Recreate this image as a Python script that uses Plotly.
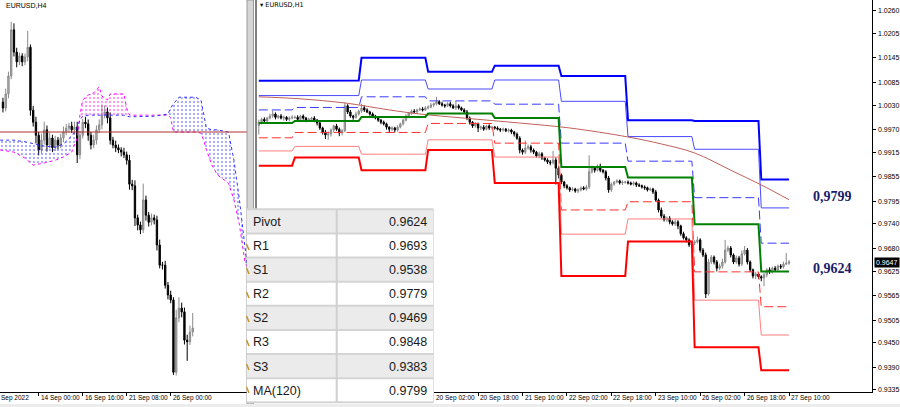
import plotly.graph_objects as go

W, H = 900, 407

# ---------------- H4 panel (left) ----------------
h4_open0 = 1.0055
h4_close = [1.0044, 1.0070, 1.0103, 1.0188, 1.0147, 1.0129, 1.0140, 1.0129, 1.0138, 1.0156,
            1.0040, 1.0018, 0.9994, 0.9967, 0.9985, 1.0004, 0.9976, 0.9989, 0.9971, 0.9985,
            0.9976, 0.9989, 1.0000, 1.0007, 1.0011, 1.0004, 1.0009, 0.9958, 0.9994, 1.0018,
            1.0015, 0.9994, 0.9976, 0.9985, 1.0004, 1.0013, 1.0031, 1.0037, 1.0026, 0.9985,
            0.9976, 0.9971, 0.9967, 0.9963, 0.9958, 0.9948, 0.9904, 0.9901, 0.9842, 0.9829,
            0.9820, 0.9875, 0.9847, 0.9834, 0.9842, 0.9838, 0.9792, 0.9755, 0.9755, 0.9718,
            0.9700, 0.9691, 0.9558, 0.9658, 0.9676, 0.9669, 0.9617, 0.9614, 0.9632, 0.9639]
h4_up = [8, 10, 8, 15, 12, 8, 6, 5, 6, 30, 5, 8, 10, 6, 12, 15, 8, 10, 6, 8,
         6, 8, 10, 8, 6, 8, 10, 10, 8, 6, 10, 8, 6, 10, 8, 10, 20, 12, 8, 10,
         6, 8, 6, 5, 8, 6, 10, 8, 10, 6, 6, 30, 8, 6, 8, 6, 8, 10, 6, 8,
         6, 8, 5, 15, 20, 10, 8, 10, 12, 28]
h4_dn = [8, 6, 8, 6, 8, 10, 6, 8, 6, 8, 10, 8, 15, 10, 6, 8, 12, 6, 8, 6,
         8, 6, 8, 6, 8, 6, 8, 15, 8, 6, 8, 10, 8, 6, 8, 6, 8, 6, 10, 8,
         6, 8, 6, 8, 6, 8, 10, 8, 15, 10, 8, 6, 10, 8, 6, 8, 10, 6, 8, 6,
         8, 6, 5, 6, 8, 10, 8, 35, 6, 8]
h4_tick_idx = [13, 29, 45, 61]
h4_tick_txt = ["14 Sep 00:00", "16 Sep 16:00", "21 Sep 08:00", "26 Sep 00:00"]
h4_level = 1.0000

kumo_idx = [-1, 4, 8, 11, 15, 19, 22, 25, 27, 28, 29, 31, 33, 35, 36, 38, 39, 44, 45, 46,
            55, 60, 61, 62, 64, 70, 72, 73, 74, 76, 78, 82, 84, 86, 88, 89]
span_a = [0.9985, 0.9985, 0.9982, 0.9978, 0.9974, 0.9972, 0.9978, 0.9993, 1.0007, 1.0022,
          1.0029, 1.0031, 1.0031, 1.0031, 1.0031, 1.0031, 1.0031, 1.0031, 1.0029, 1.0028,
          1.0029, 1.0033, 1.0044, 1.0052, 1.0064, 1.0064, 1.0059, 1.0031, 1.0007, 1.0004,
          1.0004, 1.0000, 0.9948, 0.9875, 0.9783, 0.9745]
span_b = [0.9967, 0.9963, 0.9952, 0.9939, 0.9943, 0.9948, 0.9954, 0.9963, 0.9989, 1.0031,
          1.0059, 1.0068, 1.0072, 1.0083, 1.0066, 1.0059, 1.0070, 1.0070, 1.0044, 1.0031,
          1.0031, 1.0031, 1.0026, 1.0000, 1.0000, 1.0000, 0.9998, 0.9985, 0.9967, 0.9939,
          0.9921, 0.9906, 0.9875, 0.9829, 0.9761, 0.9750]

# ---------------- H1 panel (right) ----------------
h1_open0 = 0.9980
h1_close = [
    0.9988, 0.9995, 0.9991, 0.9998, 1.0003, 1.0008, 1.0000, 1.0003, 0.9998, 1.0000, 0.9995, 0.9998, 1.0000,
    1.0000, 0.9995, 1.0003, 0.9998, 0.9993, 0.9995, 0.9998, 0.9993, 0.9986, 0.9974, 0.9964, 0.9957,
    0.9959, 0.9969, 0.9979, 0.9971, 0.9962, 0.9967, 1.0028, 1.0013, 1.0003, 1.0000, 1.0008, 1.0015,
    1.0023, 1.0018, 1.0013, 1.0008, 1.0003, 0.9998, 0.9993, 0.9988, 0.9984, 0.9976, 0.9971, 0.9974,
    0.9969, 0.9976, 0.9984, 0.9993, 1.0003, 1.0010, 1.0015, 1.0013, 1.0018, 1.0020, 1.0018, 1.0023,
    1.0025, 1.0030, 1.0033, 1.0038, 1.0033, 1.0030, 1.0028, 1.0033, 1.0028, 1.0023, 1.0028, 1.0023,
    1.0018, 1.0013, 0.9998, 0.9988, 0.9979, 0.9984, 0.9974, 0.9976, 0.9971, 0.9979, 0.9974, 0.9976,
    0.9974, 0.9971, 0.9969, 0.9971, 0.9967, 0.9969, 0.9964, 0.9959, 0.9949, 0.9920, 0.9915, 0.9925,
    0.9928, 0.9920, 0.9915, 0.9906, 0.9911, 0.9901, 0.9896, 0.9891, 0.9889, 0.9896, 0.9876, 0.9859,
    0.9842, 0.9833, 0.9828, 0.9823, 0.9825, 0.9820, 0.9823, 0.9828, 0.9825, 0.9830, 0.9867, 0.9876,
    0.9871, 0.9881, 0.9871, 0.9867, 0.9852, 0.9823, 0.9837, 0.9842, 0.9845, 0.9840, 0.9842, 0.9842,
    0.9840, 0.9837, 0.9840, 0.9835, 0.9833, 0.9830, 0.9828, 0.9823, 0.9825, 0.9818, 0.9798, 0.9774,
    0.9759, 0.9750, 0.9754, 0.9745, 0.9740, 0.9745, 0.9735, 0.9716, 0.9706, 0.9701, 0.9689, 0.9693,
    0.9696, 0.9701, 0.9676, 0.9664, 0.9569, 0.9647, 0.9659, 0.9647, 0.9632, 0.9637, 0.9647, 0.9676,
    0.9681, 0.9664, 0.9647, 0.9657, 0.9642, 0.9667, 0.9676, 0.9647, 0.9628, 0.9613, 0.9618, 0.9611,
    0.9608, 0.9616, 0.9628, 0.9623, 0.9632, 0.9628, 0.9637, 0.9635, 0.9642, 0.9644, 0.9647]
h1_up = [
    6, 4, 5, 3, 6, 8, 4, 3, 5, 4, 3, 4, 5,
    4, 5, 3, 4, 3, 4, 3, 5, 3, 4, 3, 5, 6, 4, 3, 5, 4, 5, 8, 4, 5, 3, 6, 4,
    10, 6, 4, 3, 4, 3, 5, 3, 4, 3, 2, 4, 3, 5, 3, 4, 5, 3, 4, 5, 3, 4, 5, 4,
    4, 5, 3, 12, 4, 5, 3, 4, 5, 4, 12, 4, 3, 4, 5, 4, 3, 4, 3, 4, 5, 3, 4, 3,
    3, 4, 3, 4, 3, 4, 3, 3, 4, 5, 4, 18, 6, 5, 4, 3, 5, 4, 3, 4, 5, 22, 6, 5,
    4, 3, 4, 3, 5, 3, 4, 3, 4, 5, 40, 6, 5, 4, 6, 3, 4, 5, 4, 3, 4, 3, 4, 3,
    4, 3, 4, 3, 4, 3, 4, 3, 4, 3, 5, 4, 6, 5, 4, 5, 4, 6, 4, 3, 5, 4, 4, 6,
    5, 8, 4, 5, 6, 8, 5, 4, 5, 6, 8, 25, 6, 5, 4, 6, 5, 8, 10, 5, 4, 3, 5, 4,
    4, 5, 4, 6, 4, 5, 4, 5, 6, 25, 5]
h1_dn = [
    22, 5, 4, 6, 3, 4, 5, 4, 3, 6, 4, 5, 3,
    4, 5, 3, 4, 5, 3, 4, 5, 6, 5, 6, 10, 12, 6, 5, 4, 8, 6, 3, 5, 4, 6, 3, 4,
    4, 5, 3, 4, 5, 3, 4, 5, 4, 6, 8, 5, 6, 4, 3, 4, 3, 5, 4, 3, 4, 3, 4, 3,
    4, 3, 5, 4, 3, 4, 5, 3, 4, 3, 5, 4, 3, 4, 5, 6, 5, 4, 10, 5, 4, 3, 5, 4,
    4, 3, 5, 4, 3, 4, 5, 6, 4, 8, 6, 5, 4, 6, 5, 4, 6, 5, 4, 5, 6, 4, 40, 8,
    5, 6, 4, 5, 3, 4, 5, 4, 3, 4, 5, 4, 6, 3, 5, 4, 6, 7, 5, 4, 3, 4, 5, 4,
    4, 3, 4, 5, 3, 4, 5, 4, 3, 5, 4, 6, 5, 4, 5, 6, 4, 5, 8, 5, 4, 6, 5, 4,
    5, 4, 6, 5, 10, 4, 5, 6, 8, 5, 6, 4, 5, 6, 5, 4, 6, 5, 4, 6, 5, 6, 8, 5,
    8, 20, 6, 5, 4, 5, 4, 5, 4, 3, 4]

day_len = [13, 24, 24, 24, 24, 24, 24, 24, 11]
lvl_r3 = [1.0089, 1.0090, 1.0145, 1.0111, 1.0126, 1.0101, 0.9993, 0.9991, 0.9848]
lvl_r2 = [1.0053, 1.0053, 1.0091, 1.0069, 1.0091, 1.0039, 0.9953, 0.9922, 0.9779]
lvl_r1 = [1.0018, 1.0024, 1.0050, 1.0040, 1.0032, 0.9937, 0.9893, 0.9804, 0.9693]
lvl_pv = [0.9986, 0.9991, 1.0001, 1.0009, 0.9998, 0.9879, 0.9853, 0.9739, 0.9624]
lvl_s1 = [0.9950, 0.9963, 0.9963, 0.9985, 0.9937, 0.9774, 0.9794, 0.9623, 0.9538]
lvl_s2 = [0.9918, 0.9929, 0.9910, 0.9945, 0.9903, 0.9715, 0.9752, 0.9554, 0.9469]
lvl_s3 = [0.9882, 0.9902, 0.9871, 0.9920, 0.9840, 0.9613, 0.9697, 0.9439, 0.9383]

ma_idx = [0, 15, 31, 47, 58, 74, 94, 112, 133, 145, 157, 170, 181, 191]
ma_val = [1.0050, 1.0045, 1.0035, 1.0018, 1.0008, 0.9998, 0.9986, 0.9974, 0.9952, 0.9935,
          0.9913, 0.9871, 0.9835, 0.9799]

h1_tick_idx = [63, 79, 95, 111, 127, 143, 159, 175, 191]
h1_tick_txt = ["20 Sep 02:00", "20 Sep 18:00", "21 Sep 10:00", "22 Sep 02:00", "22 Sep 18:00",
               "23 Sep 10:00", "26 Sep 02:00", "26 Sep 18:00", "27 Sep 10:00"]
price_ticks = [1.0260, 1.0205, 1.0145, 1.0085, 1.0030, 0.9970, 0.9915, 0.9855, 0.9795, 0.9740,
               0.9680, 0.9625, 0.9565, 0.9505, 0.9450, 0.9390, 0.9335]
last_price = 0.9647

tbl_names = ["Pivot", "R1", "S1", "R2", "S2", "R3", "S3", "MA(120)"]
tbl_vals = [0.9624, 0.9693, 0.9538, 0.9779, 0.9469, 0.9848, 0.9383, 0.9799]
big_labels = [0.9799, 0.9624]


# ---------------- helpers ----------------
def ohlc(open0, close, up, dn):
    o, hi, lo = [], [], []
    prev = open0
    for c, u, d in zip(close, up, dn):
        o.append(prev)
        hi.append(max(prev, c) + u / 10000)
        lo.append(min(prev, c) - d / 10000)
        prev = c
    return o, hi, lo


def px(x):
    return x / W


def py(y):
    return 1 - y / H


fig = go.Figure()


# ---- Ichimoku cloud (left) ----
def cloud_runs(idx, a, b):
    segs = []
    cur = [(idx[0], a[0], b[0])]
    for i in range(1, len(idx)):
        s0 = a[i - 1] >= b[i - 1]
        s1 = a[i] >= b[i]
        if s0 == s1:
            cur.append((idx[i], a[i], b[i]))
        else:
            d0 = a[i - 1] - b[i - 1]
            d1 = a[i] - b[i]
            t = d0 / (d0 - d1)
            xc = idx[i - 1] + t * (idx[i] - idx[i - 1])
            yc = a[i - 1] + t * (a[i] - a[i - 1])
            cur.append((xc, yc, yc))
            segs.append((s0, cur))
            cur = [(xc, yc, yc), (idx[i], a[i], b[i])]
    segs.append((a[-1] >= b[-1], cur))
    return segs


for up_a, seg in cloud_runs(kumo_idx, span_a, span_b):
    xs = [p[0] for p in seg] + [p[0] for p in reversed(seg)]
    ys = [p[1] for p in seg] + [p[2] for p in reversed(seg)]
    col = "#3030ff" if up_a else "#ff00ff"
    fig.add_trace(go.Scatter(
        x=xs, y=ys, mode="lines", line=dict(width=0), fill="toself",
        fillcolor="rgba(0,0,0,0)",
        fillpattern=dict(shape=".", fgcolor=col, bgcolor="rgba(0,0,0,0)", size=4, solidity=0.22),
        xaxis="x", yaxis="y", hoverinfo="skip"))

fig.add_trace(go.Scatter(x=kumo_idx, y=span_b, mode="lines",
                         line=dict(color="#ff00ff", width=1, dash="dot"), xaxis="x", yaxis="y"))
fig.add_trace(go.Scatter(x=kumo_idx, y=span_a, mode="lines",
                         line=dict(color="#3030ff", width=1, dash="dot"), xaxis="x", yaxis="y"))

# red horizontal level line (left)
fig.add_trace(go.Scatter(x=[-2, 95], y=[h4_level, h4_level], mode="lines",
                         line=dict(color="#b03030", width=1), xaxis="x", yaxis="y"))

# H4 candles
o4, hi4, lo4 = ohlc(h4_open0, h4_close, h4_up, h4_dn)
fig.add_trace(go.Candlestick(
    x=list(range(len(h4_close))), open=o4, high=hi4, low=lo4, close=h4_close,
    increasing=dict(line=dict(color="#8a8a8a", width=1), fillcolor="#b4b4b4"),
    decreasing=dict(line=dict(color="#000000", width=1), fillcolor="#000000"),
    whiskerwidth=0, xaxis="x", yaxis="y", hoverinfo="skip"))

# ---- H1 panel ----
N = len(h1_close)
kx = list(range(N))


def expand(levels):
    out = []
    for v, n in zip(levels, day_len):
        out.extend([v] * n)
    return out


level_styles = [
    (lvl_r3, "#0000ff", 2, "solid"),
    (lvl_r2, "#4a4aff", 1, "solid"),
    (lvl_r1, "#3a3aff", 1, "9px,4px"),
    (lvl_s1, "#ff3030", 1, "9px,4px"),
    (lvl_s2, "#ff7f7f", 1, "solid"),
    (lvl_s3, "#ff0000", 2, "solid"),
]
for lv, col, wdt, dash in level_styles:
    fig.add_trace(go.Scatter(x=kx, y=expand(lv), mode="lines",
                             line=dict(color=col, width=wdt, dash=dash),
                             xaxis="x2", yaxis="y2", hoverinfo="skip"))

fig.add_trace(go.Scatter(x=ma_idx, y=ma_val, mode="lines", line=dict(color="#c0605a", width=1, shape="spline"),
                         xaxis="x2", yaxis="y2", hoverinfo="skip"))
fig.add_trace(go.Scatter(x=kx, y=expand(lvl_pv), mode="lines",
                         line=dict(color="#008000", width=2),
                         xaxis="x2", yaxis="y2", hoverinfo="skip"))

o1, hi1, lo1 = ohlc(h1_open0, h1_close, h1_up, h1_dn)
fig.add_trace(go.Candlestick(
    x=kx, open=o1, high=hi1, low=lo1, close=h1_close,
    increasing=dict(line=dict(color="#8a8a8a", width=1), fillcolor="#b4b4b4"),
    decreasing=dict(line=dict(color="#000000", width=1), fillcolor="#000000"),
    whiskerwidth=0, xaxis="x2", yaxis="y2", hoverinfo="skip"))

# ---------------- axes ----------------
plot_bottom = 392
ydom = [(H - plot_bottom) / H, 1]
# left y mapping: price = 1.0000 + (132 - y) * 0.000184
y_left_range = [1.0000 + (132 - plot_bottom) * 0.000184, 1.0000 + 132 * 0.000184]
# right y mapping: price = 1.0260 - (y - 10.7) * 0.0002439
y_right_range = [1.0260 - (plot_bottom - 10.7) * 0.0002439, 1.0260 + 10.7 * 0.0002439]

x_left_px = [0, 247]
x_right_px = [256, 872]


def jx(pxv):
    return (pxv - 2.95) / 2.75


def kxp(pxv):
    return (pxv - 258.8) / 2.776


fig.update_layout(
    width=W, height=H, margin=dict(l=0, r=0, t=0, b=0), autosize=False,
    paper_bgcolor="white", plot_bgcolor="white", showlegend=False, hovermode=False,
    font=dict(family="Liberation Sans", size=7, color="#000000"),
    xaxis=dict(domain=[px(x_left_px[0]), px(x_left_px[1])], range=[jx(0), jx(247)],
               anchor="y", showgrid=False, zeroline=False, showticklabels=False,
               tickmode="array", tickvals=h4_tick_idx, ticks="outside", ticklen=3,
               tickcolor="#000000", showline=True, linecolor="#000000", linewidth=1,
               rangeslider=dict(visible=False), fixedrange=True),
    yaxis=dict(domain=ydom, range=y_left_range, anchor="x", showgrid=False, zeroline=False,
               showticklabels=False, showline=False, fixedrange=True),
    xaxis2=dict(domain=[px(x_right_px[0]), px(x_right_px[1])],
                range=[kxp(x_right_px[0]), kxp(x_right_px[1])],
                anchor="y2", showgrid=False, zeroline=False, showticklabels=False,
                tickmode="array", tickvals=h1_tick_idx, ticks="outside", ticklen=3,
                tickcolor="#000000", showline=True, linecolor="#000000", linewidth=1,
                rangeslider=dict(visible=False), fixedrange=True),
    yaxis2=dict(domain=ydom, range=y_right_range, anchor="x2", side="right",
                showgrid=False, zeroline=False, tickmode="array", tickvals=price_ticks,
                showticklabels=False, ticks="outside", ticklen=3,
                tickcolor="#000000", showline=True, linecolor="#000000", linewidth=1,
                fixedrange=True),
)

shapes = []
annotations = []

# price axis labels
for v in price_ticks:
    annotations.append(dict(x=px(876), y=v, xref="paper", yref="y2", text="%.4f" % v,
                            showarrow=False, xanchor="left", yanchor="middle",
                            font=dict(family="Liberation Sans", size=7, color="#000000")))

# separator between panels
shapes.append(dict(type="rect", xref="paper", yref="paper", x0=px(247), x1=px(253.5),
                   y0=py(404), y1=py(0), fillcolor="#d6d6d6", line=dict(color="#9a9a9a", width=1),
                   layer="above"))
shapes.append(dict(type="line", xref="paper", yref="paper", x0=px(256), x1=px(256),
                   y0=py(plot_bottom), y1=py(0), line=dict(color="#000000", width=1), layer="above"))
# bottom strip
shapes.append(dict(type="rect", xref="paper", yref="paper", x0=0, x1=1, y0=0, y1=py(404),
                   fillcolor="#ececec", line=dict(width=0), layer="above"))

# table
row_top = 209.3
row_h = 24.12
tbl_x0, tbl_xm, tbl_x1 = 247, 336.7, 433.5
tbl_font = dict(family="Liberation Sans", size=12.5, color="#1a1a1a")
for i, (name, val) in enumerate(zip(tbl_names, tbl_vals)):
    y0 = row_top + i * row_h
    y1 = y0 + row_h
    shapes.append(dict(type="rect", xref="paper", yref="paper", x0=px(tbl_x0), x1=px(tbl_x1),
                       y0=py(y1), y1=py(y0), fillcolor="#ebebeb" if i % 2 == 0 else "#ffffff",
                       line=dict(width=0), layer="above"))
    yc = (y0 + y1) / 2 + 0.5
    annotations.append(dict(x=px(250.5), y=py(yc), xref="paper", yref="paper", text=name,
                            showarrow=False, xanchor="left", yanchor="middle", font=tbl_font))
    annotations.append(dict(x=px(429), y=py(yc), xref="paper", yref="paper", text="%.4f" % val,
                            showarrow=False, xanchor="right", yanchor="middle", font=tbl_font))
for i in range(len(tbl_names) + 1):
    yy = row_top + i * row_h
    shapes.append(dict(type="line", xref="paper", yref="paper", x0=px(tbl_x0), x1=px(tbl_x1),
                       y0=py(yy), y1=py(yy), line=dict(color="#d4d4d4", width=2), layer="above"))
shapes.append(dict(type="line", xref="paper", yref="paper", x0=px(tbl_xm), x1=px(tbl_xm),
                   y0=py(row_top), y1=py(row_top + len(tbl_names) * row_h),
                   line=dict(color="#d0d0d0", width=2), layer="above"))
shapes.append(dict(type="line", xref="paper", yref="paper", x0=px(tbl_x1), x1=px(tbl_x1),
                   y0=py(row_top), y1=py(row_top + len(tbl_names) * row_h),
                   line=dict(color="#e0e0e0", width=1), layer="above"))

# small orange marks at table's left edge
for yy in [247, 271, 295, 319, 343, 367, 390]:
    shapes.append(dict(type="line", xref="paper", yref="paper", x0=px(246.5), x1=px(249),
                       y0=py(yy - 3), y1=py(yy + 3), line=dict(color="#c8902a", width=1.5), layer="above"))

# titles
annotations.append(dict(x=px(4), y=py(5), xref="paper", yref="paper", text="EURUSD,H4",
                        showarrow=False, xanchor="left", yanchor="middle",
                        font=dict(family="Liberation Sans", size=7, color="#000000")))
annotations.append(dict(x=px(258), y=py(5), xref="paper", yref="paper", text="▾ EURUSD,H1",
                        showarrow=False, xanchor="left", yanchor="middle",
                        font=dict(family="DejaVu Sans", size=6.5, color="#000000")))

# time labels
annotations.append(dict(x=px(-1), y=py(398), xref="paper", yref="paper", text="Sep 2022",
                        showarrow=False, xanchor="left", yanchor="middle",
                        font=dict(family="Liberation Sans", size=6.5, color="#000000")))
for j, t in zip(h4_tick_idx, h4_tick_txt):
    annotations.append(dict(x=j, y=py(398), xref="x", yref="paper", text=t, showarrow=False,
                            xanchor="left", yanchor="middle",
                            font=dict(family="Liberation Sans", size=6.5, color="#000000")))
for k, t in zip(h1_tick_idx, h1_tick_txt):
    annotations.append(dict(x=k, y=py(398), xref="x2", yref="paper", text=t, showarrow=False,
                            xanchor="left", yanchor="middle",
                            font=dict(family="Liberation Sans", size=6.5, color="#000000")))

# current price tag
annotations.append(dict(x=px(873.5), y=last_price, xref="paper", yref="y2", text="%.4f" % last_price,
                        showarrow=False, xanchor="left", yanchor="middle", bgcolor="#000000",
                        borderpad=1, font=dict(family="Liberation Sans", size=7, color="#ffffff")))

# big bold level labels
for v, yy in zip(big_labels, [196, 268]):
    annotations.append(dict(x=px(811), y=py(yy), xref="paper", yref="paper",
                            text="<b>" + ("%.4f" % v).replace(".", ",") + "</b>",
                            showarrow=False, xanchor="left", yanchor="middle",
                            font=dict(family="Liberation Serif", size=14, color="#1b1b6a")))

fig.update_layout(shapes=shapes, annotations=annotations)
fig.write_html("out.html", config={"displayModeBar": False},
               post_script="document.body.style.margin='0';document.body.style.overflow='hidden';")
